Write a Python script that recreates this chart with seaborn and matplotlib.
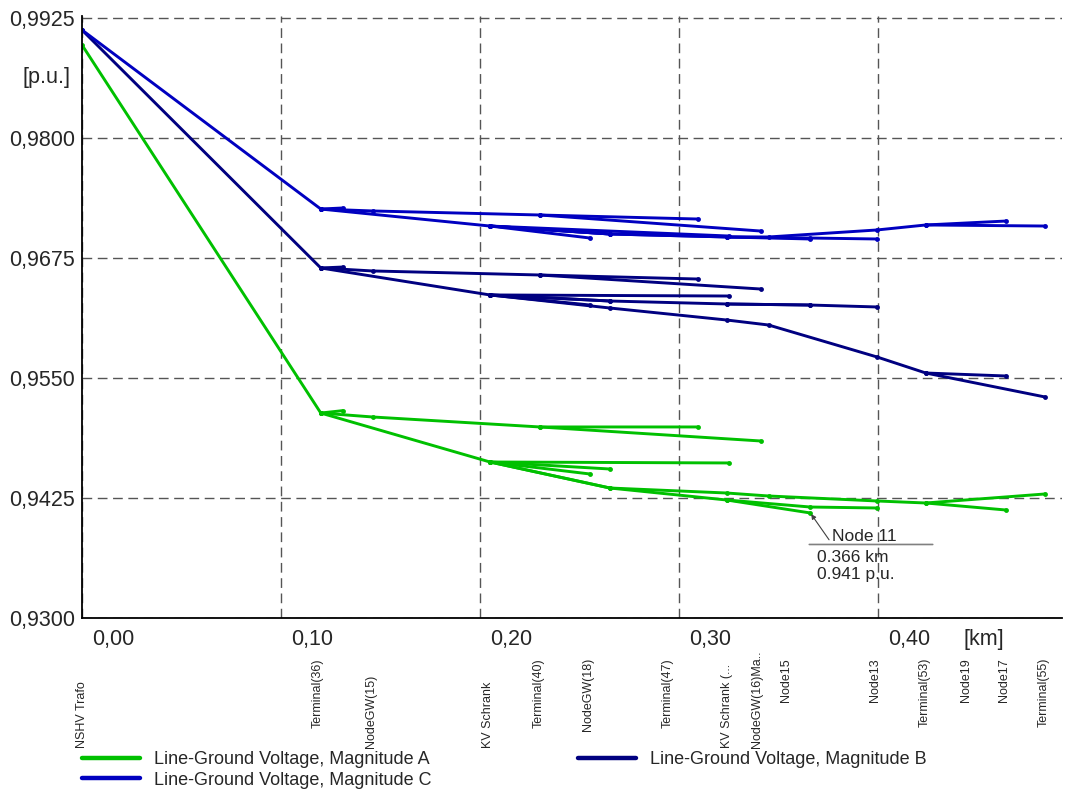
import numpy as np
import pandas as pd
import matplotlib
matplotlib.use("Agg")
import matplotlib.pyplot as plt
from matplotlib.lines import Line2D
from matplotlib.ticker import FixedLocator, NullFormatter
import seaborn as sns

# ---------------- data (distance in km, voltages in p.u.) ----------------
feed_d = [0.000, 0.120]
feed_A = [0.98969, 0.95135]
feed_B = [0.99125, 0.96646]
feed_C = [0.99125, 0.97260]

stub_d = [0.120, 0.131]
stub_A = [0.95135, 0.95160]
stub_B = [0.96646, 0.96656]
stub_C = [0.97260, 0.97271]

up1_d = [0.120, 0.146, 0.230, 0.3095]
up1_A = [0.95135, 0.95094, 0.94990, 0.94990]
up1_B = [0.96646, 0.96615, 0.96573, 0.96531]
up1_C = [0.97260, 0.97240, 0.97198, 0.97156]

up2_d = [0.230, 0.341]
up2_A = [0.94990, 0.94844]
up2_B = [0.96573, 0.96427]
up2_C = [0.97198, 0.97031]

low_d = [0.120, 0.205]
low_A = [0.95135, 0.94625]
low_B = [0.96646, 0.96365]
low_C = [0.97260, 0.97083]

e3_d = [0.205, 0.325]
e3_A = [0.94625, 0.94615]
e3_B = [0.96365, 0.96354]
e3_C = [0.97083, 0.96979]

e4_d = [0.205, 0.2653]
e4_A = [0.94625, 0.94552]
e4_B = [0.96365, 0.96302]
e4_C = [0.97083, 0.97000]

e5_d = [0.205, 0.2553]
e5_A = [0.94625, 0.94500]
e5_B = [0.96365, 0.96260]
e5_C = [0.97083, 0.96958]

pa_d = [0.205, 0.2653, 0.324, 0.345, 0.3995, 0.424, 0.484]
pa_A = [0.94625, 0.94354, 0.94302, 0.94271, 0.94219, 0.94198, 0.94292]
pa_B = [0.96365, 0.96229, 0.96104, 0.96052, 0.95719, 0.95552, 0.95302]
pa_C = [0.97083, 0.97000, 0.96969, 0.96969, 0.97042, 0.97094, 0.97083]

n17_d = [0.424, 0.4643]
n17_A = [0.94198, 0.94125]
n17_B = [0.95552, 0.95521]
n17_C = [0.97094, 0.97135]

pb_d = [0.205, 0.2653, 0.324, 0.366, 0.3995]
pb_A = [0.94625, 0.94354, 0.94229, 0.94156, 0.94146]
pb_B = [0.96365, 0.96302, 0.96271, 0.96260, 0.96240]
pb_C = [0.97083, 0.97000, 0.96969, 0.96958, 0.96948]

n11_d = [0.324, 0.366]
n11_A = [0.94229, 0.94094]
n11_B = [0.96271, 0.96260]
n11_C = [0.96969, 0.96948]

node_names = ["NSHV Trafo", "Terminal(36)", "NodeGW(15)", "KV Schrank", "Terminal(40)",
              "NodeGW(18)", "Terminal(47)", "KV Schrank (...", "NodeGW(16)Ma..", "Node15",
              "Node13", "Terminal(53)", "Node19", "Node17", "Terminal(55)"]
node_dist = [0.000, 0.1186, 0.1452, 0.2040, 0.2296, 0.2543, 0.2945, 0.3241, 0.3392,
             0.3538, 0.3985, 0.4236, 0.4442, 0.4633, 0.4834]
node_low = [True, False, True, True, False, False, False, True, True,
            False, False, False, False, False, False]

x_ticks = [0.00, 0.10, 0.20, 0.30, 0.40]
y_ticks = [0.9300, 0.9425, 0.9550, 0.9675, 0.9800, 0.9925]

phase_names = ["Line-Ground Voltage, Magnitude A",
               "Line-Ground Voltage, Magnitude B",
               "Line-Ground Voltage, Magnitude C"]
phase_colors = ["#00C000", "#000080", "#0000C0"]

branches = {
    "feed": (feed_d, feed_A, feed_B, feed_C),
    "stub": (stub_d, stub_A, stub_B, stub_C),
    "up1": (up1_d, up1_A, up1_B, up1_C),
    "up2": (up2_d, up2_A, up2_B, up2_C),
    "low": (low_d, low_A, low_B, low_C),
    "e3": (e3_d, e3_A, e3_B, e3_C),
    "e4": (e4_d, e4_A, e4_B, e4_C),
    "e5": (e5_d, e5_A, e5_B, e5_C),
    "pa": (pa_d, pa_A, pa_B, pa_C),
    "n17": (n17_d, n17_A, n17_B, n17_C),
    "pb": (pb_d, pb_A, pb_B, pb_C),
    "n11": (n11_d, n11_A, n11_B, n11_C),
}

rows = []
for bname, (d, a, b, c) in branches.items():
    for pname, vals in zip(phase_names, (a, b, c)):
        for i, (dd, vv) in enumerate(zip(d, vals)):
            rows.append({"branch": bname + "|" + pname, "phase": pname,
                         "dist": dd, "volt": vv, "order": i})
df = pd.DataFrame(rows)

# ---------------- style ----------------
sns.set_style("white")
plt.rcParams["font.family"] = ["Liberation Sans", "DejaVu Sans"]

W, H = 1066, 796
fig = plt.figure(figsize=(W / 100, H / 100), dpi=100)
ax = fig.add_axes([82 / W, 1 - 618 / H, (1062 - 82) / W, (618 - 16) / H])

palette = dict(zip(phase_names, phase_colors))
sns.lineplot(data=df, x="dist", y="volt", hue="phase", units="branch",
             estimator=None, sort=False, palette=palette, legend=False,
             lw=2.1, marker="o", markersize=3.5, markeredgewidth=0, ax=ax)

ax.set_xlim(0, (1062 - 82) / 1990)
ax.set_ylim(0.93, 0.9925 + 2 / 9600)
ax.set_xlabel("")
ax.set_ylabel("")

for s in ["top", "right"]:
    ax.spines[s].set_visible(False)
for s in ["left", "bottom"]:
    ax.spines[s].set_color("black")
    ax.spines[s].set_linewidth(1.3)

ax.xaxis.set_major_locator(FixedLocator(x_ticks))
ax.xaxis.set_minor_locator(FixedLocator([t + 0.05 for t in x_ticks]))
ax.yaxis.set_major_locator(FixedLocator(y_ticks))
ax.yaxis.set_minor_locator(FixedLocator([t + 0.00625 for t in y_ticks[:-1]]))
ax.xaxis.set_major_formatter(NullFormatter())
ax.set_yticklabels([f"{t:.4f}".replace(".", ",") for t in y_ticks], fontsize=15.5)
ax.tick_params(axis="y", which="major", length=0, pad=5)
ax.tick_params(axis="x", which="major", length=0)
ax.tick_params(which="minor", direction="in", length=5, width=1, color="#444444")

ax.grid(True, which="major", color="#555555", linestyle=(0, (7, 4)), lw=1.0)
ax.set_axisbelow(True)

for t in x_ticks:
    ax.annotate(f"{t:.2f}".replace(".", ","), xy=(t, 0), xycoords=("data", "axes fraction"),
                xytext=(31, -21), textcoords="offset pixels", ha="center", va="center",
                fontsize=15.5)
ax.annotate("[km]", xy=(0.45, 0), xycoords=("data", "axes fraction"),
            xytext=(6, -21), textcoords="offset pixels", ha="center", va="center",
            fontsize=15.5)
ax.annotate("[p.u.]", xy=(0, 0.98625), xycoords=("axes fraction", "data"),
            xytext=(-12, 0), textcoords="offset pixels", ha="right", va="center",
            fontsize=15.5)

for name, d, low in zip(node_names, node_dist, node_low):
    if low:
        ax.annotate(name, xy=(d, 0), xycoords=("data", "axes fraction"),
                    xytext=(0, -130), textcoords="offset pixels", rotation=90,
                    ha="center", va="bottom", fontsize=9, annotation_clip=False)
    else:
        ax.annotate(name, xy=(d, 0), xycoords=("data", "axes fraction"),
                    xytext=(0, -40), textcoords="offset pixels", rotation=90,
                    ha="center", va="top", fontsize=9, annotation_clip=False)

# Node 11 annotation
n11_dist = n11_d[-1]
n11_volt = n11_A[-1]
t = ax.annotate("Node 11", xy=(n11_dist, n11_volt), xytext=(22, -24),
                textcoords="offset pixels", ha="left", va="center", fontsize=12.5,
                arrowprops=dict(arrowstyle="-|>", color="#404040", lw=0.8,
                                mutation_scale=7, relpos=(0, 0), shrinkA=0, shrinkB=1))
ax.annotate("", xy=(1.42, 0.0), xycoords=t, xytext=(-0.03, 0.0), textcoords=t,
            arrowprops=dict(arrowstyle="-", color="#808080", lw=1.2, shrinkA=0, shrinkB=0))
ax.annotate(f"{n11_dist:.3f} km\n{n11_volt:.3f} p.u.", xy=(0, 0), xycoords=t,
            xytext=(5, -6), textcoords="offset pixels", ha="left", va="top",
            fontsize=12.5, linespacing=1.12)

# legend
handles = [Line2D([], [], color=c, lw=3.2) for c in phase_colors]
order = [0, 2, 1]
fig.legend([handles[i] for i in order], [phase_names[i] for i in order],
           loc="upper left", bbox_to_anchor=(82 / W, 1 - 751 / H), ncol=2,
           frameon=False, fontsize=13, handlelength=3.2, handletextpad=0.8,
           columnspacing=8.1, labelspacing=0.2, borderpad=0, borderaxespad=0)

fig.savefig("out.png", dpi=100)
